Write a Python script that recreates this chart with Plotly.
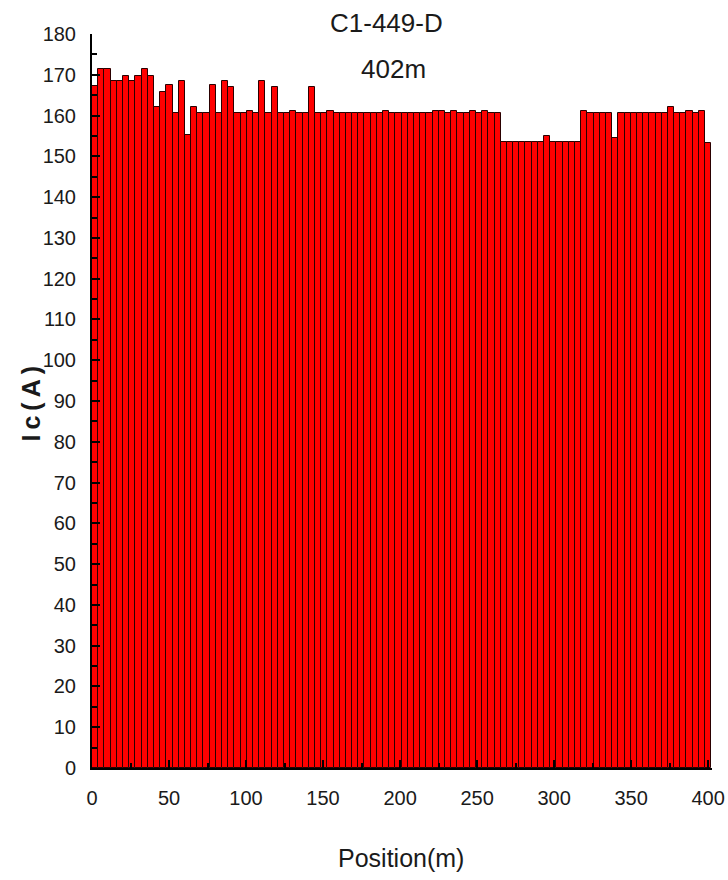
import plotly.graph_objects as go

# Critical current along the tape, one reading per 4.02 m segment (402 m total)
segment_length_m = 4.02
ic_values = [
    167.3, 171.3, 171.3, 168.5, 168.5, 169.7, 168.5, 169.7, 171.4, 169.7,
    162.2, 165.8, 167.5, 160.6, 168.5, 155.2, 162.2, 160.6, 160.6, 167.4,
    160.6, 168.4, 167.1, 160.6, 160.6, 161.2, 160.6, 168.4, 160.6, 167.1,
    160.6, 160.6, 161.2, 160.6, 160.6, 167.1, 160.6, 160.6, 161.2, 160.6,
    160.6, 160.6, 160.6, 160.6, 160.6, 160.6, 160.6, 161.2, 160.6, 160.6,
    160.6, 160.6, 160.6, 160.6, 160.6, 161.2, 161.2, 160.6, 161.2, 160.6,
    160.6, 161.2, 160.6, 161.2, 160.6, 160.6, 153.6, 153.6, 153.6, 153.6,
    153.6, 153.6, 153.6, 155.1, 153.6, 153.6, 153.6, 153.6, 153.6, 161.2,
    160.6, 160.6, 160.6, 160.6, 154.5, 160.6, 160.6, 160.6, 160.6, 160.6,
    160.6, 160.6, 160.6, 162.0, 160.6, 160.6, 161.2, 160.6, 161.2, 153.2,
]
positions = [round(segment_length_m * (i + 0.5), 3) for i in range(len(ic_values))]

sample_name = "C1-449-D"
length_label = "402m"
x_title = "Position(m)"
y_title = "I\u2009c\u2009(\u2009A\u2009)"

FONT = "Liberation Sans, Arial, sans-serif"
TEXT_COLOR = "#1a1a1a"

fig = go.Figure(
    go.Bar(
        x=positions,
        y=ic_values,
        width=segment_length_m,
        marker=dict(color="#ff0000", line=dict(color="#2a0000", width=1)),
    )
)

axis_common = dict(
    showline=True,
    linecolor="black",
    linewidth=2,
    showgrid=False,
    zeroline=False,
    automargin=False,
    ticks="inside",
    tickcolor="black",
    tickwidth=2,
    ticklen=8,
    tickfont=dict(family=FONT, size=20, color=TEXT_COLOR),
)

fig.update_xaxes(
    range=[0, 402.5],
    tickvals=[0, 50, 100, 150, 200, 250, 300, 350, 400],
    minor=dict(dtick=25, tick0=0, ticks="inside", ticklen=5, tickwidth=2, tickcolor="black"),
    ticklabelstandoff=11,
    **axis_common,
)
fig.update_yaxes(
    range=[0, 180],
    dtick=10,
    minor=dict(dtick=5, tick0=0, ticks="inside", ticklen=5, tickwidth=2, tickcolor="black"),
    ticklabelstandoff=10,
    **axis_common,
)

fig.update_layout(
    width=728,
    height=880,
    margin=dict(l=91.5, r=16.3, t=34, b=112.3),
    plot_bgcolor="white",
    paper_bgcolor="white",
    showlegend=False,
    bargap=0,
    annotations=[
        dict(text=sample_name, xref="paper", yref="paper", x=0.475, y=1.015,
             xanchor="center", yanchor="middle", showarrow=False,
             font=dict(family=FONT, size=26, color=TEXT_COLOR)),
        dict(text=length_label, xref="paper", yref="paper", x=0.486, y=0.952,
             xanchor="center", yanchor="middle", showarrow=False,
             font=dict(family=FONT, size=26, color=TEXT_COLOR)),
        dict(text=x_title, xref="paper", yref="paper", x=0.499, y=-0.123,
             xanchor="center", yanchor="middle", showarrow=False,
             font=dict(family=FONT, size=25, color=TEXT_COLOR)),
        dict(text="<b>" + y_title + "</b>", xref="paper", yref="paper", x=-0.099, y=0.496,
             xanchor="center", yanchor="middle", showarrow=False, textangle=-90,
             font=dict(family=FONT, size=25, color=TEXT_COLOR)),
    ],
)

fig.write_html("out.html")
